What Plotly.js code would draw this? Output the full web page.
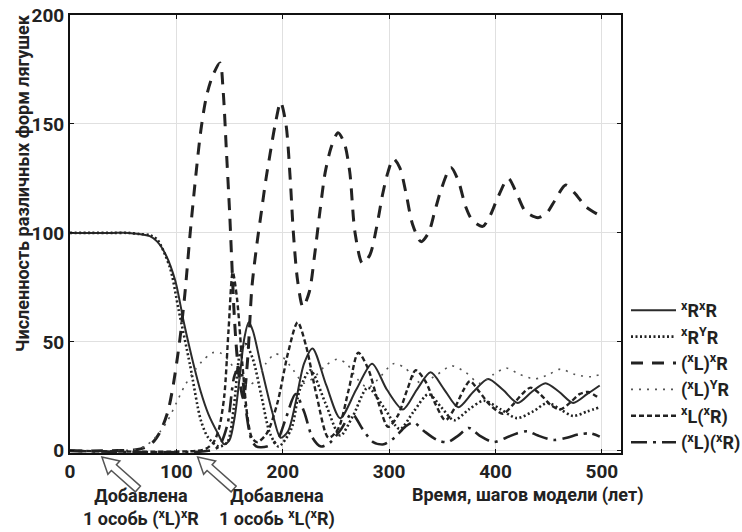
<!DOCTYPE html>
<html>
<head>
<meta charset="utf-8">
<script src="https://cdn.plot.ly/plotly-3.0.1.min.js"></script>
<style>
body{margin:0;padding:0;background:#fff}#chart{width:742px;height:532px}
</style>
</head>
<body>
<div id="chart"></div>
<script>
// ---- data ----
const seriesNames = ["<sup>x</sup>R<sup>x</sup>R", "<sup>x</sup>R<sup>Y</sup>R", "(<sup>x</sup>L)<sup>x</sup>R",
                     "(<sup>x</sup>L)<sup>Y</sup>R", "<sup>x</sup>L(<sup>x</sup>R)", "(<sup>x</sup>L)(<sup>x</sup>R)"];

const t1 = [0,20,40,55,65,75,82,90,99,107,116,123,130,139,145,150,155,160,164,168,172,180,190,198,205,212,220,228,241,254,269,284,298,313,326,339,352,365,379,393,407,421,434,447,460,473,486,498];
const v1 = [100,100,100,100,99.5,98.5,96,90,78,59,40,27,17,8,3,5,16,36,52,59,55,38,18,6,9,22,40,47,30,15,28,40,28,19,28,36,28,20,27,33,28,22,27,31,27,22,26,30];

const t2 = [0,20,40,55,65,75,82,94,102,113,123,130,140,148,154,160,165,172,180,188,196,208,216,226,240,254,266,280,295,310,323,337,349,361,375,389,405,420,435,449,461,473,486,498];
const v2 = [100,100,100,100,99.5,99,97,84,65,39,14,6,2,4,20,45,49,42,25,8,2,10,28,37,22,7,16,29,20,10,18,26,20,14,19,23,19,15,18,22,19,16,18,20];

const t3 = [0,30,62,70,78,85,92,97,103,108,113,118,123,128,134,141,144,147,150,152,154,156,159,163,167,171,176,180,184,188,193,198,203,207,210,214,219,225,230,235,240,246,252,258,263,268,275,282,288,294,299,304,310,316,322,330,337,343,349,358,365,372,378,388,395,402,412,420,428,440,448,456,466,475,485,498];
const v3 = [0,0,0.5,1.5,4,9,18,30,50,72,100,125,147,162,172,178,165,138,110,88,66,50,34,24,42,75,96,110,124,136,150,160,150,125,100,78,66,73,90,110,128,140,146,141,128,100,86,90,102,118,128,134,130,118,104,96,100,110,120,130,124,112,106,103,108,116,125,118,110,107,109,115,122,118,112,108];

const t4 = [0,30,60,70,78,85,92,100,108,116,124,134,141,150,158,167,176,184,193,200,210,220,230,240,251,260,270,280,290,304,315,330,345,359,372,385,398,410,423,437,450,461,475,490,498];
const v4 = [0,0,0.5,2,5,9,14,22,30,36,41,45,45,41,34,30,33,40,44.5,43,37,31,34,39,42,40,33,29,33,40,38,31,35,39,36,31,35,38,35,33,35,37.5,35,34,35];

const t5 = [0,120,128,135,140,145,149,153,157,162,167,171,176,185,195,205,214,222,232,243,252,262,271,280,290,299,308,317,325,334,343,353,362,370,376,385,395,407,416,425,433,442,452,461,470,479,487,498];
const v5 = [0,0,1,4,10,25,55,82,70,40,15,6,4,8,22,45,59,48,25,6,10,28,45,38,22,11,16,28,37,32,22,14,20,28,32,27,21,17,21,26,29,26,21,19,22,26,27,24];

const t6 = [0,130,140,148,155,160,165,170,175,185,195,203,212,220,228,236,245,255,265,275,285,295,305,315,323,333,345,355,365,375,385,398,410,420,430,440,455,467,478,489,498];
const v6 = [0,0,2,12,35,38,20,6,2,2,5,15,26,18,6,2,4,10,17,10,4,3,6,11,13,9,5,4,7,10.5,7,4,6,8,9,7,5,6,7.5,8,6.5];

const xTicks = [0,100,200,300,400,500];
const yTicks = [0,50,100,150,200];
const addedTimes = [30,120];
const addedLabels = ["Добавлена<br>1 особь (<sup>x</sup>L)<sup>x</sup>R", "Добавлена<br>1 особь <sup>x</sup>L(<sup>x</sup>R)"];

// ---- styles ----
const FONT = "Roboto, 'Liberation Sans', sans-serif";
const styles = [
  {color:'#2b2b2b', width:2,   dash:'solid'},
  {color:'#222',    width:2.6, dash:'2px,2.5px'},
  {color:'#222',    width:3,   dash:'12px,9px'},
  {color:'#555',    width:1.6, dash:'2px,6px'},
  {color:'#222',    width:2.4, dash:'5px,3px'},
  {color:'#222',    width:2.6, dash:'16px,6px,3px,6px'}
];
const T = [t1,t2,t3,t4,t5,t6], V = [v1,v2,v3,v4,v5,v6];
const traces = T.map((tt,i)=>({
  x: tt, y: V[i], type:'scatter', mode:'lines', name: seriesNames[i],
  line: Object.assign({shape:'spline', smoothing:0.8}, styles[i])
}));

// plot geometry
const W=742,H=532,ML=70,MR=121,MT=15,MB=79;
const PW=W-ML-MR, PH=H-MT-MB;
const XR=[0,518], YR=[-1,200];
function px2paperX(p){return (p-ML)/PW;}
function px2paperY(p){return (H-MB-p)/PH;}
function dataX2px(x){return ML+(x-XR[0])/(XR[1]-XR[0])*PW;}

// hollow arrows (annotation glyphs)
function arrowPath(tipx,tipy,tailx,taily){
  const dx=tailx-tipx, dy=taily-tipy, L=Math.hypot(dx,dy);
  const ux=dx/L, uy=dy/L, nx=-uy, ny=ux;
  const hl=16, hw=9, sw=3.8;
  const pts=[
    [tipx,tipy],
    [tipx+ux*hl+nx*hw, tipy+uy*hl+ny*hw],
    [tipx+ux*hl+nx*sw, tipy+uy*hl+ny*sw],
    [tailx+nx*sw, taily+ny*sw],
    [tailx-nx*sw, taily-ny*sw],
    [tipx+ux*hl-nx*sw, tipy+uy*hl-ny*sw],
    [tipx+ux*hl-nx*hw, tipy+uy*hl-ny*hw]
  ];
  return 'M'+pts.map(p=>px2paperX(p[0]).toFixed(5)+','+px2paperY(p[1]).toFixed(5)).join(' L')+' Z';
}
const shapes = addedTimes.map(tt=>{
  const tipx=dataX2px(tt), tipy=457;
  return {type:'path', xref:'paper', yref:'paper', path:arrowPath(tipx,tipy,tipx+36,tipy+32),
          fillcolor:'#fff', line:{color:'#555', width:1.5}, layer:'above'};
});

const annotations = addedLabels.map((txt,i)=>({
  xref:'paper', yref:'paper', x:px2paperX(i===0?141:277), y:px2paperY(508), text:txt, showarrow:false,
  xanchor:'center', yanchor:'middle', align:'center',
  font:{family:FONT, size:18, color:'#222', weight:'bold'}
}));
annotations.push({xref:'paper', yref:'paper', x:px2paperX(527), y:px2paperY(495),
  text:'Время, шагов модели (лет)', showarrow:false, xanchor:'center', yanchor:'middle',
  font:{family:FONT, size:18, color:'#222', weight:'bold'}});
annotations.push({xref:'paper', yref:'paper', x:px2paperX(22), y:px2paperY(183), textangle:-90,
  text:'Численность различных форм лягушек', showarrow:false, xanchor:'center', yanchor:'middle',
  font:{family:FONT, size:18, color:'#222', weight:'bold'}});

const layout = {
  width:W, height:H, margin:{l:ML,r:MR,t:MT,b:MB,pad:0, autoexpand:false},
  paper_bgcolor:'#fff', plot_bgcolor:'#fff',
  font:{family:FONT, color:'#222', weight:'bold'},
  showlegend:true,
  legend:{xref:'container', yref:'container', x:626/W, y:1-292/H, xanchor:'left', yanchor:'top', bgcolor:'rgba(0,0,0,0)',
          font:{family:FONT, size:18, color:'#222', weight:'bold'}, itemwidth:45, tracegroupgap:0},
  xaxis:{range:XR, tickvals:xTicks, ticktext:xTicks.map(String), showgrid:true, gridcolor:'#e0e0e0', gridwidth:1,
         zeroline:false, showline:true, linecolor:'#111', linewidth:2, mirror:'ticks', ticks:'inside', ticklen:4,
         tickcolor:'#111', tickfont:{family:FONT, size:19, color:'#222', weight:'bold'}},
  yaxis:{range:YR, tickvals:yTicks, ticktext:yTicks.map(String), showgrid:true, gridcolor:'#e0e0e0', gridwidth:1,
         zeroline:false, showline:true, linecolor:'#111', linewidth:2, mirror:'ticks', ticks:'inside', ticklen:4,
         tickcolor:'#111', tickfont:{family:FONT, size:19, color:'#222', weight:'bold'}},
  shapes:shapes, annotations:annotations
};
Plotly.newPlot('chart', traces, layout, {staticPlot:true, displayModeBar:false});
</script>
</body>
</html>
